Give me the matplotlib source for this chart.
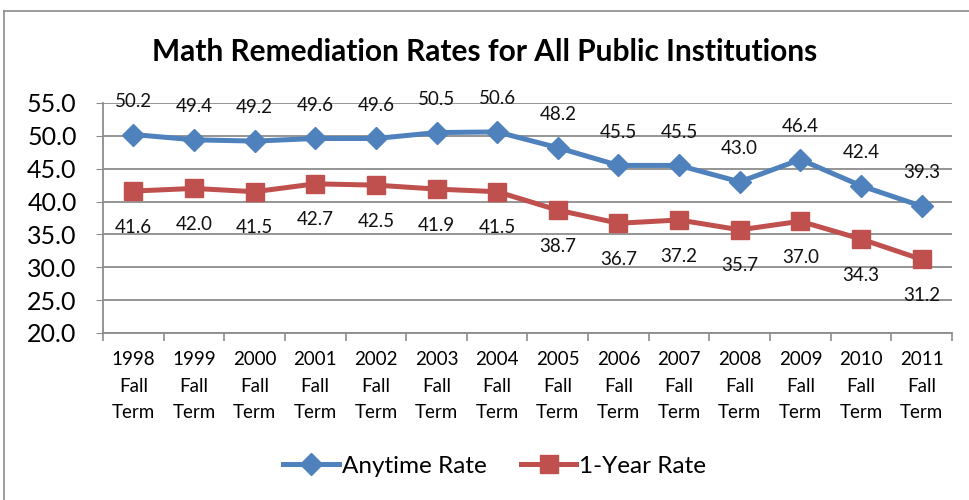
import matplotlib.pyplot as plt
from matplotlib.lines import Line2D

years = ["1998", "1999", "2000", "2001", "2002", "2003", "2004",
         "2005", "2006", "2007", "2008", "2009", "2010", "2011"]
anytime = [50.2, 49.4, 49.2, 49.6, 49.6, 50.5, 50.6, 48.2, 45.5, 45.5, 43.0, 46.4, 42.4, 39.3]
one_year = [41.6, 42.0, 41.5, 42.7, 42.5, 41.9, 41.5, 38.7, 36.7, 37.2, 35.7, 37.0, 34.3, 31.2]
yticks = [20, 25, 30, 35, 40, 45, 50, 55]

plt.rcParams['font.family'] = ['Lato', 'DejaVu Sans']

fig = plt.figure(figsize=(9.7, 5), dpi=100)
ax = fig.add_axes([103 / 970, 1 - 333 / 500, 849 / 970, 230 / 500])

blue = "#4F81BD"
red = "#C0504D"
x = list(range(len(years)))

ax.plot(x, anytime, color=blue, lw=3.6, marker="D", ms=11, label="Anytime Rate", zorder=3)
ax.plot(x, one_year, color=red, lw=3.6, marker="s", ms=13, label="1-Year Rate", zorder=3)

for i in x:
    ax.annotate(f"{anytime[i]:.1f}", (i, anytime[i]), xytext=(0, 24), textcoords="offset points",
                ha="center", va="center", fontsize=13.5, color="#111111")
    ax.annotate(f"{one_year[i]:.1f}", (i, one_year[i]), xytext=(0, -26), textcoords="offset points",
                ha="center", va="center", fontsize=13.5, color="#111111")

ax.set_xlim(-0.5, len(years) - 0.5)
ax.set_ylim(20, 55)
ax.set_yticks(yticks)
ax.set_yticklabels([f"{v:.1f}" for v in yticks], fontsize=18)
ax.yaxis.grid(True, color="#8c8c8c", lw=1.3)
ax.set_axisbelow(True)
ax.tick_params(axis="y", length=5, color="#8c8c8c", pad=14)

ax.set_xticks(x)
ax.set_xticklabels([f"{y}\nFall\nTerm" for y in years], fontsize=13.5, linespacing=1.68)
ax.set_xticks([i - 0.5 for i in range(len(years) + 1)], minor=True)
ax.tick_params(axis="x", which="major", length=0, pad=13)
ax.tick_params(axis="x", which="minor", length=6, color="#8c8c8c", width=1.2)

for s in ["top", "right"]:
    ax.spines[s].set_visible(False)
for s in ["left", "bottom"]:
    ax.spines[s].set_color("#8c8c8c")
    ax.spines[s].set_linewidth(1.3)

fig.text(0.5, 1 - 52 / 500, "Math Remediation Rates for All Public Institutions",
         ha="center", va="center", fontsize=21.5, fontweight="bold")

fig.legend(loc="center", bbox_to_anchor=(0.51, 1 - 466 / 500), ncol=2, frameon=False,
           fontsize=17.5, handlelength=2.3, columnspacing=1.4, handletextpad=0.1)

fig.add_artist(Line2D([4 / 970, 1], [1 - 11 / 500, 1 - 11 / 500], color="#8c8c8c", lw=1.2))
fig.add_artist(Line2D([4 / 970, 4 / 970], [0, 1 - 11 / 500], color="#8c8c8c", lw=1.2))

fig.savefig("out.png", dpi=100)
